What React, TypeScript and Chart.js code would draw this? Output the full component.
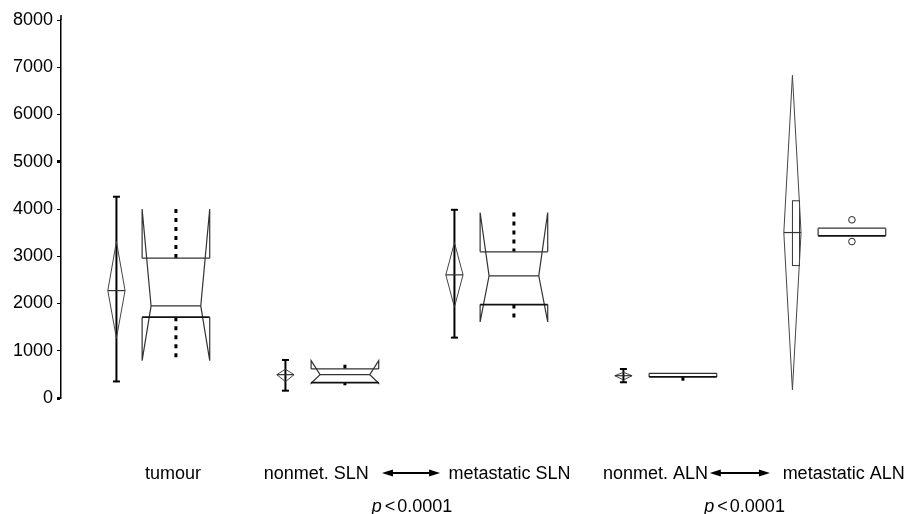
import React, { useEffect, useRef } from "react";
import { Chart, registerables } from "chart.js";

Chart.register(...registerables);

// ---------- data ----------
const categories = ["tumour", "nonmet. SLN", "metastatic SLN", "nonmet. ALN", "metastatic ALN"];
const yTickStep = 1000;
const yMax = 8000;

// mean diamonds (mean, 95% CI) and error bars
const means = [2273, 494, 2606, 472, 3502];
const ciLow = [1265, 345, 1921, 381, 170];
const ciHigh = [3311, 608, 3290, 544, 6830];
const errLow: (number | null)[] = [350, 155, 1278, 333, null];
const errHigh: (number | null)[] = [4260, 805, 3983, 614, null];
const bandLow: (number | null)[] = [null, null, null, null, 2803];
const bandHigh: (number | null)[] = [null, null, null, null, 4174];

// notched box plots
const boxQ1 = [1710, 324, 1977, 445, 3432];
const boxMedian: (number | null)[] = [1949, 494, 2585, null, null];
const boxQ3 = [2960, 615, 3093, 523, 3595];
const notchLow: (number | null)[] = [790, 311, 1610, null, null];
const notchHigh: (number | null)[] = [3998, 790, 3926, null, null];
const whiskerLow: (number | null)[] = [790, 269, 1610, 366, null];
const whiskerHigh: (number | null)[] = [3998, 705, 3926, null, null];
const outliers: number[][] = [[], [], [], [], [3771, 3311]];

const comparisons = [
  { from: 1, to: 2, label: "0.0001" },
  { from: 3, to: 4, label: "0.0001" },
];

// ---------- layout (scale units) ----------
const DIAMOND_OFFSET = -0.172;
const DIAMOND_HALF = 0.051;
const BOX_OFFSET = 0.18;
const BOX_HALF = 0.2;
const NOTCH_INSET = 0.053;
const LABEL_LEFT = [0.497, 1.2, 2.293, 3.207, 4.27];
const ARROWS = [
  [1.899, 2.243],
  [3.839, 4.195],
];
const P_CENTER = [2.077, 4.045];

const FONT = "'Liberation Sans', Arial, Helvetica, sans-serif";

const shapesPlugin = {
  id: "groupShapes",
  afterDatasetsDraw(chart: any) {
    const ctx: CanvasRenderingContext2D = chart.ctx;
    const xs = chart.scales.x;
    const ys = chart.scales.y;
    const X = (v: number) => xs.getPixelForValue(v);
    const Y = (v: number) => ys.getPixelForValue(v);
    const unit = X(1) - X(0);
    const line = (x1: number, y1: number, x2: number, y2: number) => {
      ctx.beginPath();
      ctx.moveTo(x1, y1);
      ctx.lineTo(x2, y2);
      ctx.stroke();
    };
    ctx.save();
    ctx.lineCap = "butt";
    categories.forEach((_, i) => {
      const c = i + 0.5;
      // ---- diamond ----
      const dx = X(c + DIAMOND_OFFSET);
      const hw = DIAMOND_HALF * unit;
      const el = errLow[i];
      const eh = errHigh[i];
      if (el != null && eh != null) {
        ctx.strokeStyle = "#000";
        ctx.lineWidth = 2;
        line(dx, Y(el), dx, Y(eh));
        line(dx - 3.5, Y(el), dx + 3.5, Y(el));
        line(dx - 3.5, Y(eh), dx + 3.5, Y(eh));
      }
      const bl = bandLow[i];
      const bhv = bandHigh[i];
      if (bl != null && bhv != null) {
        ctx.strokeStyle = "#333";
        ctx.lineWidth = 1;
        ctx.strokeRect(dx, Y(bhv), 0.042 * unit, Y(bl) - Y(bhv));
      }
      ctx.strokeStyle = "#444";
      ctx.lineWidth = 1;
      ctx.beginPath();
      ctx.moveTo(dx, Y(ciHigh[i]));
      ctx.lineTo(dx + hw, Y(means[i]));
      ctx.lineTo(dx, Y(ciLow[i]));
      ctx.lineTo(dx - hw, Y(means[i]));
      ctx.closePath();
      ctx.stroke();
      ctx.strokeStyle = "#333";
      ctx.lineWidth = 1.2;
      line(dx - hw, Y(means[i]), dx + hw, Y(means[i]));

      // ---- box ----
      const bx = X(c + BOX_OFFSET);
      const half = BOX_HALF * unit;
      const inset = NOTCH_INSET * unit;
      const L = bx - half;
      const R = bx + half;
      const q1 = boxQ1[i];
      const q3 = boxQ3[i];
      // dotted whiskers
      ctx.strokeStyle = "#000";
      ctx.lineWidth = 3;
      ctx.setLineDash([4, 5]);
      const wh = whiskerHigh[i];
      const wl = whiskerLow[i];
      if (wh != null) line(bx, Y(wh), bx, Y(q3));
      if (wl != null) line(bx, Y(q1), bx, Y(wl));
      ctx.setLineDash([]);

      ctx.strokeStyle = "#333";
      ctx.lineWidth = 1.2;
      const nh = notchHigh[i];
      const nl = notchLow[i];
      const med = boxMedian[i];
      if (nh != null && nl != null && med != null) {
        [
          [L, 1],
          [R, -1],
        ].forEach(([sx, dir]) => {
          ctx.beginPath();
          ctx.moveTo(sx, Y(q3));
          ctx.lineTo(sx, Y(nh));
          ctx.lineTo(sx + dir * inset, Y(med));
          ctx.lineTo(sx, Y(nl));
          ctx.lineTo(sx, Y(q1));
          ctx.stroke();
        });
        line(L + inset, Y(med), R - inset, Y(med));
      } else {
        line(L, Y(q3), L, Y(q1));
        line(R, Y(q3), R, Y(q1));
        if (med != null) line(L, Y(med), R, Y(med));
      }
      ctx.lineWidth = 1.3;
      line(L, Y(q3), R, Y(q3));
      ctx.lineWidth = 1.8;
      ctx.strokeStyle = "#111";
      line(L, Y(q1), R, Y(q1));

      // outliers
      ctx.lineWidth = 1;
      ctx.strokeStyle = "#222";
      outliers[i].forEach((v) => {
        ctx.beginPath();
        ctx.arc(bx, Y(v), 3.3, 0, Math.PI * 2);
        ctx.fillStyle = "#fff";
        ctx.fill();
        ctx.stroke();
      });
    });
    ctx.restore();
  },
  afterDraw(chart: any) {
    const ctx: CanvasRenderingContext2D = chart.ctx;
    const xs = chart.scales.x;
    const X = (v: number) => xs.getPixelForValue(v);
    const area = chart.chartArea;
    ctx.save();
    // axis extension above top tick
    ctx.strokeStyle = "#000";
    ctx.lineWidth = 1.5;
    ctx.beginPath();
    ctx.moveTo(area.left, area.top - 5);
    ctx.lineTo(area.left, area.top);
    ctx.stroke();

    ctx.fillStyle = "#000";
    ctx.textBaseline = "alphabetic";
    ctx.textAlign = "left";
    ctx.font = `18px ${FONT}`;
    const labelY = area.bottom + 81;
    categories.forEach((t, i) => {
      ctx.fillText(t, X(LABEL_LEFT[i]), labelY);
    });
    // arrows
    const ay = area.bottom + 75;
    ARROWS.forEach(([a, b]) => {
      const x1 = X(a);
      const x2 = X(b);
      const head = 11;
      ctx.lineWidth = 2;
      ctx.beginPath();
      ctx.moveTo(x1 + head - 1, ay);
      ctx.lineTo(x2 - head + 1, ay);
      ctx.stroke();
      ctx.beginPath();
      ctx.moveTo(x1, ay);
      ctx.lineTo(x1 + head, ay - 3.5);
      ctx.lineTo(x1 + head, ay + 3.5);
      ctx.closePath();
      ctx.fill();
      ctx.beginPath();
      ctx.moveTo(x2, ay);
      ctx.lineTo(x2 - head, ay - 3.5);
      ctx.lineTo(x2 - head, ay + 3.5);
      ctx.closePath();
      ctx.fill();
    });
    // p-values
    const py = area.bottom + 114;
    comparisons.forEach((cmp, k) => {
      ctx.font = `italic 18px ${FONT}`;
      const wp = ctx.measureText("p").width;
      ctx.font = `18px ${FONT}`;
      const wl = ctx.measureText("<").width;
      const wn = ctx.measureText(cmp.label).width;
      const total = wp + 3 + wl + 2 + wn;
      let x = X(P_CENTER[k]) - total / 2;
      ctx.font = `italic 18px ${FONT}`;
      ctx.fillText("p", x, py);
      x += wp + 3;
      ctx.font = `18px ${FONT}`;
      ctx.fillText("<", x, py);
      x += wl + 2;
      ctx.fillText(cmp.label, x, py);
    });
    ctx.restore();
  },
};

export default function App() {
  const ref = useRef<HTMLCanvasElement | null>(null);
  useEffect(() => {
    document.body.style.margin = "0";
    if (!ref.current) return;
    const chart = new Chart(ref.current, {
      type: "scatter",
      data: {
        datasets: [
          {
            data: means.map((m, i) => ({ x: i + 0.5, y: m })),
            pointRadius: 0,
            showLine: false,
          },
        ],
      },
      options: {
        animation: false,
        responsive: false,
        devicePixelRatio: 1,
        layout: { padding: { top: 20, bottom: 116, left: 0, right: 0 } },
        plugins: { legend: { display: false }, tooltip: { enabled: false } },
        scales: {
          x: { type: "linear", min: 0, max: categories.length, display: false },
          y: {
            min: 0,
            max: yMax,
            afterFit: (s: any) => {
              s.width = 61;
            },
            ticks: {
              stepSize: yTickStep,
              color: "#000",
              padding: 4,
              font: { family: FONT, size: 18 },
              callback: (v: any) => String(v),
            },
            grid: {
              drawOnChartArea: false,
              drawTicks: true,
              tickLength: 4,
              tickColor: "#000",
              tickWidth: (c: any) =>
                c.tick && (c.tick.value === 5000 || c.tick.value === 0) ? 3 : 1,
            },
            border: { display: true, color: "#000", width: 1.5 },
          },
        },
      },
      plugins: [shapesPlugin],
    } as any);
    return () => chart.destroy();
  }, []);
  return (
    <div style={{ width: 906, height: 514, background: "#fff" }}>
      <canvas ref={ref} width={906} height={514} />
    </div>
  );
}
